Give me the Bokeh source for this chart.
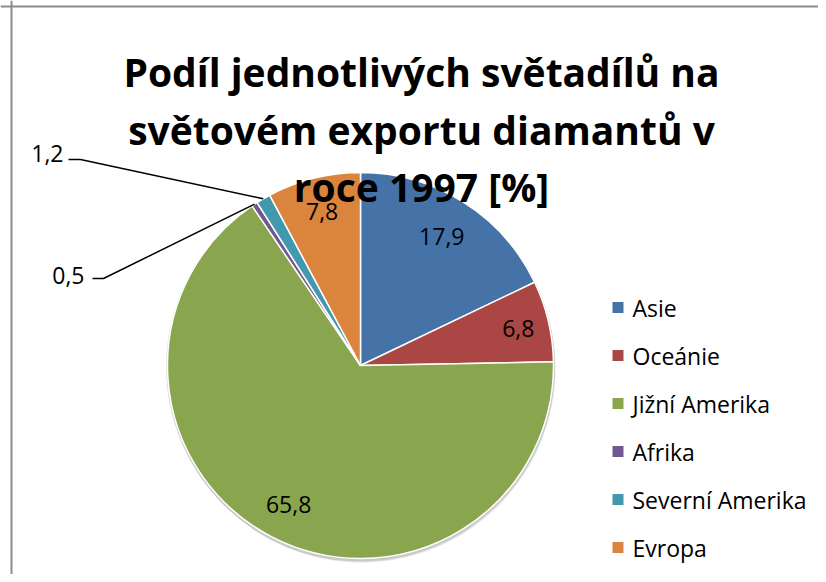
import math
from bokeh.plotting import figure
from bokeh.models import Range1d, Span
from bokeh.core.properties import value
from bokeh.embed import file_html
from bokeh.resources import INLINE

# ---- data ----
categories = ["Asie", "Oceánie", "Jižní Amerika", "Afrika", "Severní Amerika", "Evropa"]
shares = [17.9, 6.8, 65.8, 0.5, 1.2, 7.8]
value_labels = ["17,9", "6,8", "65,8", "0,5", "1,2", "7,8"]
colors = ["#4572A7", "#AA4643", "#89A54E", "#71588F", "#4198AF", "#DB843D"]
title_lines = ["Podíl jednotlivých světadílů na", "světovém exportu diamantů v", "roce 1997 [%]"]

# ---- layout (pixel space, y measured upward) ----
W, H = 818, 574
OFF = 0  # observed page offset of the figure
def X(px): return px - OFF
def Y(py): return H - (py - OFF)

cx, cy, R = X(360), Y(365), 193
FONT = "Open Sans"

p = figure(width=W, height=H, output_backend="svg", toolbar_location=None,
           x_range=Range1d(0, W), y_range=Range1d(0, H), min_border=0)
p.axis.visible = False
p.grid.visible = False
p.outline_line_color = None
p.background_fill_color = "white"
p.border_fill_color = "white"

# chart border (top & left visible)
p.add_layout(Span(location=X(11), dimension="height", line_color="#8c8c8c", line_width=2))
p.add_layout(Span(location=Y(6), dimension="width", line_color="#8c8c8c", line_width=2))

# angles (clockwise from top)
total = sum(shares)
starts, ends, mids = [], [], []
cum = 0.0
for s in shares:
    a0 = math.pi / 2 - 2 * math.pi * cum / total
    cum += s
    a1 = math.pi / 2 - 2 * math.pi * cum / total
    starts.append(a0); ends.append(a1); mids.append((a0 + a1) / 2)

# soft shadow
p.circle(x=[cx + 1], y=[cy - 3], radius=R + 1, fill_color="#000000", fill_alpha=0.10, line_color=None)
p.circle(x=[cx], y=[cy - 1.5], radius=R + 1.5, fill_color="#000000", fill_alpha=0.12, line_color=None)

p.wedge(x=[cx] * len(shares), y=[cy] * len(shares), radius=R,
        start_angle=starts, end_angle=ends, direction="clock",
        fill_color=colors, line_color="white", line_width=1.5)

# inside labels
inside = {0: 0.79, 1: 0.84, 2: 0.81, 5: 0.82}
for i, rf in inside.items():
    a = mids[i]
    p.text(x=[cx + rf * R * math.cos(a)], y=[cy + rf * R * math.sin(a)], text=[value_labels[i]],
           text_font=value(FONT), text_font_size="23px", text_color="#000000",
           text_align="center", text_baseline="middle")

# outside labels with leader lines (Afrika, Severní Amerika)
outside = {3: (84, 275, 92, 278, 103), 4: (63, 153, 68, 159, 80)}
for i, (tx, ty, lx0, ly, lx1) in outside.items():
    a = mids[i]
    ex, ey = cx + R * math.cos(a), cy + R * math.sin(a)
    p.line(x=[X(lx0), X(lx1), ex], y=[Y(ly), Y(ly), ey], line_color="black", line_width=1.5)
    p.text(x=[X(tx)], y=[Y(ty)], text=[value_labels[i]],
           text_font=value(FONT), text_font_size="23px", text_color="#000000",
           text_align="right", text_baseline="middle")

# title
for k, line in enumerate(title_lines):
    p.text(x=[X(421)], y=[Y(71 + 57.5 * k)], text=[line],
           text_font=value(FONT), text_font_style="bold", text_font_size="39px",
           text_color="#000000", text_align="center", text_baseline="alphabetic")

# legend
for k, (cat, col) in enumerate(zip(categories, colors)):
    ry = Y(307 + 48 * k)
    p.rect(x=[X(617.5)], y=[ry], width=11, height=11, fill_color=col, line_color=None)
    p.text(x=[X(632)], y=[ry], text=[cat], text_font=value(FONT), text_font_size="23px",
           text_color="#000000", text_align="left", text_baseline="middle")

open("out.html", "w").write(file_html(p, INLINE))
